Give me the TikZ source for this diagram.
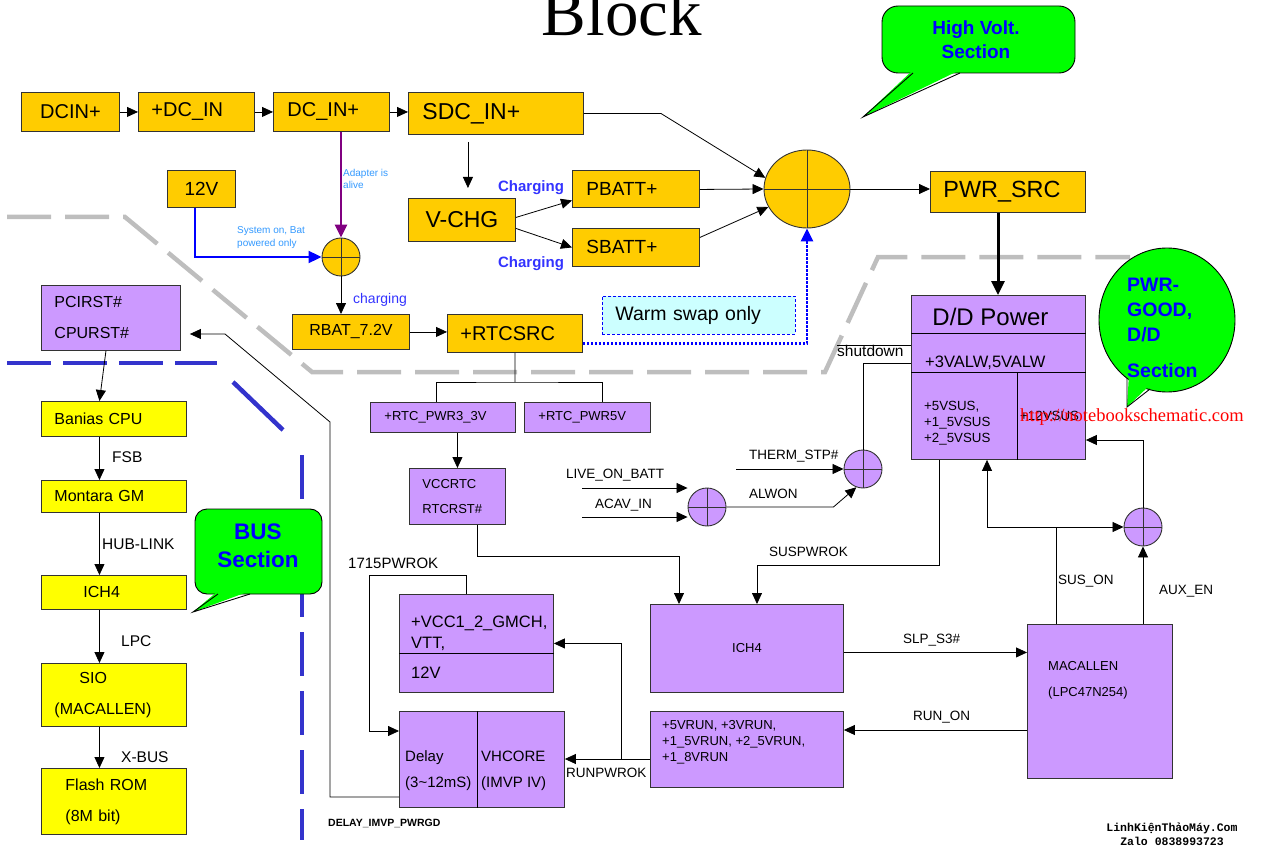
\documentclass[tikz,border=0pt]{standalone}
\usepackage{fontspec}
\setmainfont{Liberation Sans}
\newfontfamily\titlefont{Liberation Serif}
\newfontfamily\markfont{Liberation Mono}
\usetikzlibrary{arrows.meta,shapes.geometric}
\definecolor{orng}{RGB}{255,204,0}
\definecolor{yel}{RGB}{255,255,0}
\definecolor{purp}{RGB}{204,153,255}
\definecolor{callgrn}{RGB}{0,255,0}
\definecolor{lblue}{RGB}{51,153,255}
\definecolor{chblue}{RGB}{51,51,255}
\definecolor{busblue}{RGB}{51,51,204}
\definecolor{cyanbg}{RGB}{204,255,255}
\definecolor{adapt}{RGB}{128,0,128}
\definecolor{graydash}{RGB}{190,190,190}

\begin{document}
\begin{tikzpicture}[x=1pt,y=-1pt,
  box/.style={draw=black!80,line width=0.9pt,anchor=north west,inner sep=0pt,align=left},
  obox/.style={box,fill=orng},
  ybox/.style={box,fill=yel},
  pbox/.style={box,fill=purp},
  lbl/.style={inner sep=0pt,anchor=base west,font=\fontsize{13.5}{16}\selectfont},
  txt/.style={inner sep=0pt,anchor=north west,align=left},
  arr/.style={line width=0.8pt,-{Triangle[length=11pt,width=10pt]}},
  adder/.style={draw=black!80,line width=0.9pt,circle,minimum size=38pt,inner sep=0pt,
    path picture={\draw (path picture bounding box.north) -- (path picture bounding box.south)
      (path picture bounding box.west) -- (path picture bounding box.east);}},
  callout/.style={draw=black,line width=0.9pt,fill=callgrn},
  calltxt/.style={inner sep=0pt,text=blue,align=center,font=\bfseries\fontsize{19}{24}\selectfont},
  busline/.style={busblue,line width=4.5pt}]
\useasboundingbox (0,0) rectangle (1262,848);

% section borders
\draw[graydash,line width=4.5pt,dash pattern=on 44pt off 14pt] (7,217) -- (125,217) -- (312,372) -- (825,372) -- (878,257) -- (1130,257);
\draw[busline,dash pattern=on 44pt off 12pt] (7,363) -- (217,363);
\draw[busline] (233,382) -- (283,430);
\draw[busline,dash pattern=on 44pt off 15pt] (302,455) -- (302,840);

% title
\node[inner sep=0pt,anchor=base,font=\titlefont\fontsize{67}{70}\selectfont] (title) at (622,36) {Block};

% callouts
\draw[callout,rounded corners=16pt] (882,6) rectangle (1075,73);
\fill[callgrn] (913,70) -- (863,117) -- (960,70) -- cycle;
\draw[line width=0.9pt] (913,73) -- (863,117) -- (960,73);
\node[calltxt] (hv) at (976,40) {High Volt.\\Section};

\draw[callout,rounded corners=12pt] (195,509) rectangle (322,594);
\fill[callgrn] (218,591) -- (193,612) -- (250,591) -- cycle;
\draw[line width=0.9pt] (218,594) -- (193,612) -- (250,594);
\node[calltxt,font=\bfseries\fontsize{22.5}{28}\selectfont] (bus) at (258,546) {BUS\\Section};

\draw[callout] (1167,320) ellipse [x radius=68pt,y radius=72pt];
\fill[callgrn] (1129,374) -- (1127,407) -- (1150,385) -- cycle;
\draw[line width=0.9pt] (1127,378) -- (1127,407) -- (1150,389);
\node[calltxt,anchor=north west,align=left,font=\bfseries\fontsize{19.5}{25}\selectfont] (pg) at (1127,278) {PWR-\\GOOD,\\D/D\\[11pt]Section};

% high volt
\node[obox,minimum width=98pt,minimum height=39pt,font=\fontsize{20}{24}\selectfont] (dcin) at (21,92) {DCIN+};
\node[obox,minimum height=39pt,text width=90pt,inner xsep=13pt,font=\fontsize{20}{24}\selectfont] (pdcin) at (138,92) {+DC\_IN};
\node[obox,minimum height=39pt,text width=88pt,inner xsep=14pt,font=\fontsize{20}{24}\selectfont] (dcinp) at (273,92) {DC\_IN+};
\node[obox,minimum height=42pt,text width=147pt,inner xsep=14pt,font=\fontsize{23}{26}\selectfont] (sdcin) at (408,92) {SDC\_IN+};
\node[obox,minimum width=107pt,minimum height=43pt,font=\fontsize{23}{26}\selectfont] (vchg) at (408,198) {V-CHG};
\node[obox,minimum height=37pt,text width=99pt,inner xsep=14pt,font=\fontsize{19}{22}\selectfont] (pbatt) at (572,170) {PBATT+};
\node[obox,minimum height=38pt,text width=99pt,inner xsep=14pt,font=\fontsize{19}{22}\selectfont] (sbatt) at (572,228) {SBATT+};
\node[obox,minimum width=68pt,minimum height=37pt,font=\fontsize{19}{22}\selectfont] (v12) at (167,170) {12V};
\node[obox,minimum width=117pt,minimum height=35pt,font=\fontsize{16}{19}\selectfont] (rbat) at (292,314) {RBAT\_7.2V};
\node[obox,minimum height=38pt,text width=109pt,inner xsep=13pt,font=\fontsize{20}{24}\selectfont] (rtcsrc) at (447,314) {+RTCSRC};
\node[obox,minimum height=41pt,text width=129pt,inner xsep=13pt,font=\fontsize{23.4}{26}\selectfont] (pwrsrc) at (930,171) {PWR\_SRC};
\node[box,draw=blue,dash pattern=on 3pt off 2pt,fill=cyanbg,minimum height=38pt,text width=167pt,inner xsep=13pt,font=\fontsize{19.5}{22}\selectfont] (warm) at (602,296) {Warm swap only};
\node[adder,fill=orng] (add1) at (341,257) {};
\node[adder,ellipse,minimum width=86pt,minimum height=78pt,fill=orng] (add2) at (807,189) {};

\node[txt,text=lblue,font=\fontsize{10}{12}\selectfont] (adl) at (343,169.4) {Adapter is\\alive};
\node[txt,text=lblue,font=\fontsize{10}{13}\selectfont] (sysl) at (237,226.4) {System on, Bat\\powered only};
\node[lbl,anchor=base,text=chblue,font=\bfseries\fontsize{15}{18}\selectfont] (chg1) at (531,191.4) {Charging};
\node[lbl,anchor=base,text=chblue,font=\bfseries\fontsize{15}{18}\selectfont] (chg2) at (531,267.4) {Charging};
\node[lbl,text=chblue,font=\fontsize{14}{16}\selectfont] (chg3) at (353,303) {charging};

\draw[arr] (dcin.east) -- (pdcin.west);
\draw[arr] (pdcin.east) -- (dcinp.west);
\draw[arr] (dcinp.east) -- (dcinp.east -| sdcin.west);
\draw[adapt,line width=2.5pt,-{Triangle[length=13pt,width=12pt]}] (add1.north |- dcinp.south) -- (add1.north);
\draw[blue,line width=2pt,-{Triangle[length=13pt,width=12pt]}] ([xshift=-6pt]v12.south) |- (add1.west);
\draw[arr] (add1.south) -- (add1.south |- rbat.north);
\draw[arr] (rbat.east) -- (rbat.east -| rtcsrc.west);
\coordinate (chgtop) at ([xshift=6pt]vchg.north);
\draw[arr,shorten <=7pt,shorten >=10pt] (chgtop |- sdcin.south) -- (chgtop);
\draw[arr] ([yshift=2.5pt]vchg.east) -- ([yshift=-11.5pt]pbatt.west);
\draw[arr] ([yshift=-8.5pt]vchg.east) -- (sbatt.west);
\draw[arr] (sdcin.east) -- ++(77,0) -- (add2.165);
\draw[arr] ([yshift=-0.5pt]pbatt.east) -- (add2.west);
\draw[arr] ([yshift=10pt]sbatt.east) -- (add2.205);
\draw[blue,line width=2.5pt,dash pattern=on 2.5pt off 1.5pt,-{Triangle[length=13pt,width=12pt]}] ([yshift=-10pt]rtcsrc.east) -| (add2.south);
\draw[arr] (add2.east) -- (add2.east -| pwrsrc.west);
\draw[line width=3pt,-{Triangle[length=14pt,width=13pt]}] (pwrsrc.south -| 998,0) -- (998,295);

% D/D power
\node[pbox,minimum width=174pt,minimum height=164pt] (ddpwr) at (911,295) {};
\draw[line width=0.9pt] ([yshift=-38pt]ddpwr.north west) -- ([yshift=-38pt]ddpwr.north east);
\draw[line width=0.9pt] ([yshift=-77pt]ddpwr.north west) -- ([yshift=-77pt]ddpwr.north east);
\draw[line width=0.9pt] ([xshift=106pt,yshift=-77pt]ddpwr.north west) -- ([xshift=106pt]ddpwr.south west);
\node[inner sep=0pt,anchor=base,font=\fontsize{24}{28}\selectfont] (ddt) at (990.5,325) {D/D Power};
\node[lbl,font=\fontsize{16.5}{19}\selectfont] (valw) at (925,367) {+3VALW,5VALW};
\node[txt,font=\fontsize{13.3}{16}\selectfont] (vsus) at (924,401) {+5VSUS,\\+1\_5VSUS\\+2\_5VSUS};
\node[lbl,font=\fontsize{13.3}{16}\selectfont] (v12sus) at (1020,420) {+12VSUS};
\node[lbl,font=\fontsize{15.5}{18}\selectfont] (shut) at (837,356.5) {shutdown};
\draw[line width=0.8pt] (837,345) -- (ddpwr.west |- 0,345);

% bus section
\node[pbox,minimum height=65pt,text width=113pt,inner xsep=13pt,font=\fontsize{16}{31}\selectfont] (pcirst) at (41,285) {PCIRST\#\\CPURST\#};
\node[ybox,minimum height=35pt,text width=119pt,inner xsep=13pt,font=\fontsize{16}{19}\selectfont] (banias) at (41,401) {Banias CPU};
\node[ybox,minimum height=32pt,text width=119pt,inner xsep=13pt,font=\fontsize{16}{19}\selectfont] (mont) at (41,480) {Montara GM};
\node[ybox,minimum height=34pt,text width=61pt,inner xsep=42pt,font=\fontsize{16}{19}\selectfont] (ich4l) at (41,575) {ICH4};
\node[ybox,minimum height=63pt,text width=119pt,inner xsep=13pt,font=\fontsize{16}{31}\selectfont] (sio) at (41,663) {\hspace*{25pt}SIO\\(MACALLEN)};
\node[ybox,minimum height=66pt,text width=97pt,inner xsep=24pt,font=\fontsize{16}{31}\selectfont] (flash) at (41,768) {Flash ROM\\(8M bit)};
\draw[arr] ([xshift=-5pt]pcirst.south) -- ([xshift=-14.5pt]banias.north);
\draw[arr] ([xshift=-14.5pt]banias.south) -- ([xshift=-14.5pt]mont.north);
\draw[arr] ([xshift=-14.5pt]mont.south) -- ([xshift=-14.5pt]ich4l.north);
\draw[arr] ([xshift=-14.5pt]ich4l.south) -- ([xshift=-14.5pt]sio.north);
\draw[arr] ([xshift=-14.5pt]sio.south) -- ([xshift=-14.5pt]flash.north);
\node[lbl,font=\fontsize{15.5}{18}\selectfont] (fsb) at (112,462.6) {FSB};
\node[lbl,font=\fontsize{15.5}{18}\selectfont] (hub) at (102,549.6) {HUB-LINK};
\node[lbl,font=\fontsize{15.5}{18}\selectfont] (lpc) at (121,646.6) {LPC};
\node[lbl,font=\fontsize{15.5}{18}\selectfont] (xbus) at (121,762.6) {X-BUS};

% RTC and power good
\node[pbox,minimum height=30pt,text width=117pt,inner xsep=14pt,font=\fontsize{13}{15}\selectfont] (rtc3) at (370,402) {+RTC\_PWR3\_3V};
\node[pbox,minimum height=30pt,text width=98pt,inner xsep=14pt,font=\fontsize{13}{15}\selectfont] (rtc5) at (524,402) {+RTC\_PWR5V};
\node[pbox,minimum height=56pt,text width=70pt,inner xsep=13pt,font=\fontsize{13}{25}\selectfont] (vccrtc) at (409,468) {VCCRTC\\RTCRST\#};
\coordinate (rtcbr) at (515,382);
\draw[line width=0.8pt] (rtcsrc.south) -- (rtcbr);
\draw[line width=0.8pt] ([xshift=66pt]rtc3.north west) |- (rtcbr) -| ([xshift=78pt]rtc5.north west);
\draw[arr] (vccrtc.north |- rtc3.south) -- (vccrtc.north);

\node[adder,fill=purp] (aalw) at (707,507) {};
\node[adder,fill=purp] (athm) at (863,469) {};
\node[adder,fill=purp] (asus) at (1143,527) {};
\coordinate (lob) at (582,488);
\coordinate (acv) at (582,517);
\coordinate (thm) at (736,469);
\draw[arr] (lob) -- (lob -| aalw.west);
\draw[arr] (acv) -- (acv -| aalw.west);
\draw[arr] (thm) -- (athm.west);
\draw[arr] (aalw.east) -- ++(107,0) -- (athm.250);
\coordinate (shdn) at (911,363);
\draw[line width=0.8pt] (athm.north) |- (shdn);
\node[lbl] (lobl) at (566,478) {LIVE\_ON\_BATT};
\node[lbl] (acvl) at (595,508) {ACAV\_IN};
\node[lbl] (thml) at (749,459) {THERM\_STP\#};
\node[lbl] (alwl) at (749,498) {ALWON};

\node[pbox,minimum width=193pt,minimum height=88pt,align=center,font=\fontsize{13}{15}\selectfont] (ich4m) at (650,604) {ICH4};
\node[pbox,minimum width=145pt,minimum height=154pt] (mac) at (1027,624) {};
\node[txt,font=\fontsize{13}{26}\selectfont] (mact) at (1048,661) {MACALLEN\\(LPC47N254)};
\node[pbox,minimum width=193pt,minimum height=76pt] (runs) at (650,711) {};
\node[txt,font=\fontsize{13}{16}\selectfont] (runst) at (662,720.3) {+5VRUN, +3VRUN,\\+1\_5VRUN, +2\_5VRUN,\\+1\_8VRUN};
\node[pbox,minimum width=154pt,minimum height=98pt] (vcc) at (399,594) {};
\draw[line width=0.9pt] ([yshift=-59pt]vcc.north west) -- ([yshift=-59pt]vcc.north east);
\node[txt,font=\fontsize{16.5}{21}\selectfont] (vcct) at (411,616) {+VCC1\_2\_GMCH,\\VTT,};
\node[txt,font=\fontsize{16.5}{21}\selectfont] (vcc12) at (411,667) {12V};
\node[pbox,minimum width=165pt,minimum height=96pt] (dly) at (399,711) {};
\draw[line width=0.9pt] ([xshift=78pt]dly.north west) -- ([xshift=78pt]dly.south west);
\node[txt,font=\fontsize{15}{26}\selectfont] (dlyt) at (405,750.6) {Delay\\(3\textasciitilde12mS)};
\node[txt,font=\fontsize{15}{26}\selectfont] (vht) at (481,750.6) {VHCORE\\(IMVP IV)};

\coordinate (susp) at (757,565);
\draw[arr] ([xshift=28pt]ddpwr.south west) |- (susp) -- (susp |- ich4m.north);
\coordinate (rtcok) at (679,556);
\draw[arr] ([xshift=68pt]vccrtc.south west) |- (rtcok) -- (rtcok |- ich4m.north);
\coordinate (slp) at ([yshift=-4pt]ich4m.east);
\draw[arr] (slp) -- (slp -| mac.west);
\coordinate (runon) at ([yshift=-106pt]mac.north west);
\draw[arr] (runon) -- (runon -| runs.east);
\coordinate (rpw) at ([yshift=-48pt]runs.north west);
\draw[arr] (rpw) -- (rpw -| dly.east);
\coordinate (rbr) at (621,759);
\draw[arr] (rbr) |- (vcc.east);
\coordinate (pw17) at (369,575);
\draw[arr] ([xshift=67pt]vcc.north west) |- (pw17) |- ([yshift=-20pt]dly.north west);
\coordinate (dg1) at (330,422);
\coordinate (dg2) at (225,334);
\draw[arr,shorten >=9pt] ([yshift=-86pt]dly.north west) -| (dg1) -- (dg2) -- (dg2 -| pcirst.east);
\coordinate (sj) at (1056,527);
\draw[line width=0.8pt] (sj |- mac.north) -- (sj);
\draw[arr] (sj) -| ([xshift=76pt]ddpwr.south west);
\draw[arr] (sj) -- (asus.west);
\draw[arr] (asus.south |- mac.north) -- (asus.south);
\draw[arr] (asus.north) |- ([yshift=-145pt]ddpwr.north east);

\node[lbl] (suspl) at (769,556) {SUSPWROK};
\node[lbl] (slpl) at (903,643) {SLP\_S3\#};
\node[lbl] (runl) at (913,720) {RUN\_ON};
\node[lbl] (susl) at (1058,584) {SUS\_ON};
\node[lbl] (auxl) at (1159,594) {AUX\_EN};
\node[lbl] (rpwl) at (566,777) {RUNPWROK};
\node[lbl,font=\fontsize{15}{18}\selectfont] (pw17l) at (348,568) {1715PWROK};
\node[lbl,font=\bfseries\fontsize{10.5}{12}\selectfont] (dlyl) at (328,826) {DELAY\_IMVP\_PWRGD};

% watermarks
\node[inner sep=0pt,anchor=west,text=red,font=\titlefont\fontsize{18.5}{20}\selectfont] (wmurl) at (1020,417) {http://notebookschematic.com};
\node[inner sep=0pt,align=center,font=\markfont\bfseries\fontsize{11.5}{14}\selectfont] (wmshop) at (1172,834) {LinhKiệnThảoMáy.Com\\Zalo 0838993723};
\end{tikzpicture}
\end{document}
